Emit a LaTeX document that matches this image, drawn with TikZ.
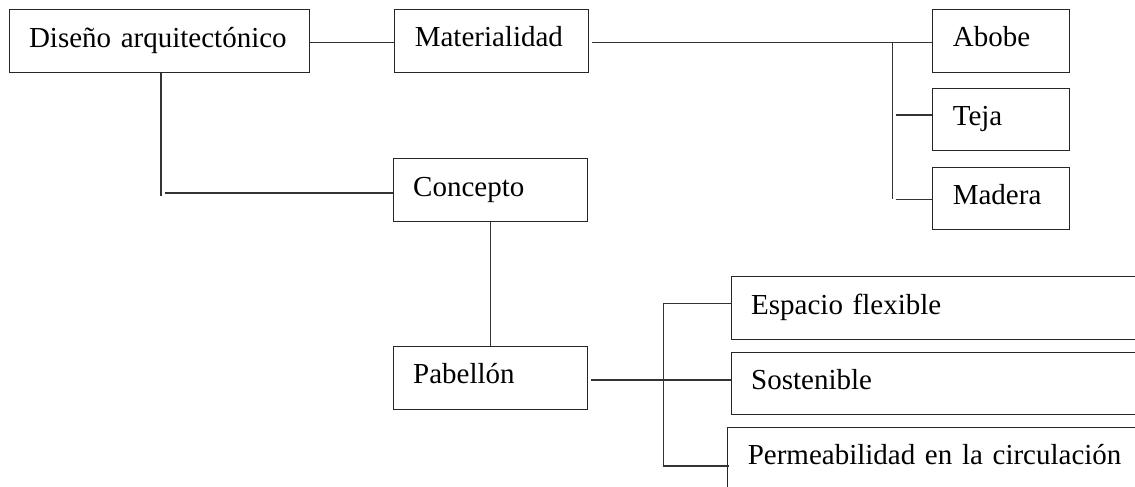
\documentclass[tikz,border=0pt]{standalone}
\usepackage{fontspec}
\setmainfont{Liberation Serif}
\begin{document}
\begin{tikzpicture}[x=1pt,y=-1pt,
  box/.style={draw=black!85, line width=1pt, anchor=north west, inner xsep=20pt, inner ysep=0pt,
    align=left, text height=20pt, text depth=8pt, font=\fontsize{29}{34}\selectfont},
  conn/.style={draw=black!80, line width=1.2pt}]
\clip (0,0) rectangle (1135,487);
\fill[white] (0,0) rectangle (1135,487);
% boxes
\node[box, text width=260.5pt, minimum height=62.5pt] (dis) at (8.5,9.5) {Diseño arquitectónico};
\node[box, text width=154pt, minimum height=62.4pt] (mat) at (394.3,9.3) {Materialidad};
\node[box, text width=154pt, minimum height=62.7pt] (con) at (392.7,158.3) {Concepto};
\node[box, text width=154pt, minimum height=63.3pt] (pab) at (392.7,345.7) {Pabellón};
\node[box, text width=97pt, minimum height=62.4pt] (abo) at (932.3,9.3) {Abobe};
\node[box, text width=97pt, minimum height=62pt] (tej) at (932.3,88.3) {Teja};
\node[box, text width=97pt, minimum height=62pt] (mad) at (932.3,167.3) {Madera};
\node[box, text width=400pt, minimum height=63pt] (esp) at (730.7,276) {Espacio flexible};
\node[box, text width=400pt, minimum height=62.3pt] (sos) at (730.7,351.7) {Sostenible};
\node[box, text width=400pt, minimum height=63pt] (per) at (727.3,426.7) {Permeabilidad en la circulación};
% connectors
\coordinate (m1) at (591.7,42.5);
\draw[conn] (dis.east |- m1) -- (mat.west |- m1);
\draw[conn] (m1) -- (m1 -| abo.west);
\coordinate (j1) at (161,196);
\draw[conn] (dis.south -| j1) -- (j1);
\coordinate (j1h) at (165,193);
\draw[conn] (j1h) -- (j1h -| con.west);
\coordinate (b1) at (892.3,42.5);
\coordinate (b2) at (892.3,199.3);
\draw[conn] (b1) -- (b2);
\coordinate (t1) at (895.7,115);
\draw[conn] (t1) -- (t1 -| tej.west);
\coordinate (t2) at (895.7,199.3);
\draw[conn] (t2) -- (t2 -| mad.west);
\draw[conn] (con.south) -- (pab.north);
\coordinate (p1) at (590.7,380);
\draw[conn] (p1) -- (p1 -| sos.west);
\coordinate (v1) at (663.3,303.3);
\coordinate (v2) at (663.3,466);
\draw[conn] (v1) -- (v2);
\draw[conn] (v1) -- (v1 -| esp.west);
\draw[conn] (v2) -- ([xshift=2pt]v2 -| per.west);
\end{tikzpicture}
\end{document}
